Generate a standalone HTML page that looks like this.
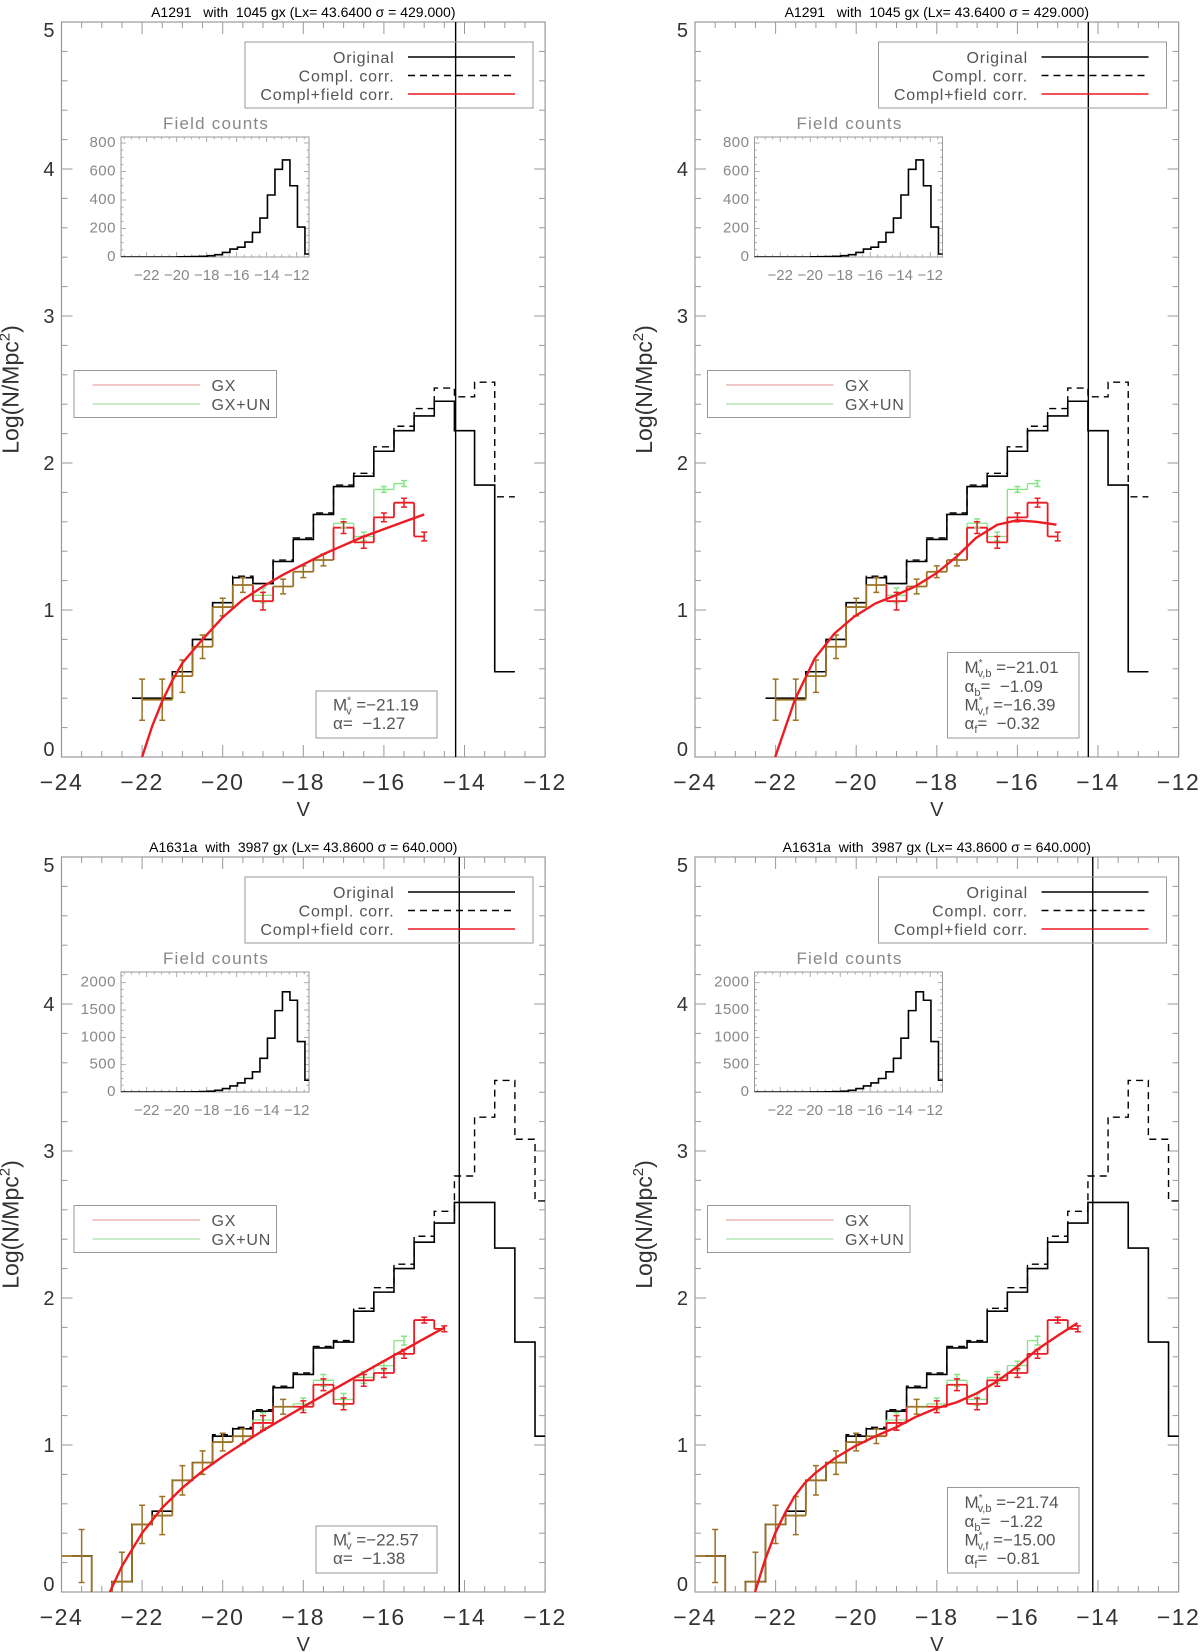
<!DOCTYPE html>
<html>
<head>
<meta charset="utf-8">
<style>
  html, body { margin: 0; padding: 0; background: #fff; }
  svg { display: block; }
  text { font-family: "Liberation Sans", "DejaVu Sans", sans-serif; }
</style>
</head>
<body>
<svg id="chart" xmlns="http://www.w3.org/2000/svg" width="1200" height="1652" viewBox="0 0 1200 1652">
  <rect x="0" y="0" width="1200" height="1652" fill="#ffffff"/>
</svg>
<script>
// ---------------- DATA ----------------
// Cluster A1291 (top row)
const a1291Title = "A1291   with  1045 gx (Lx= 43.6400 \u03c3 = 429.000)";
const a1291BinMag = [-22,-21.5,-21,-20.5,-20,-19.5,-19,-18.5,-18,-17.5,-17,-16.5,-16,-15.5,-15,-14.5,-14,-13.5,-13];
const a1291Original = [0.40,0.40,0.58,0.80,1.05,1.22,1.18,1.33,1.48,1.65,1.84,1.91,2.08,2.22,2.32,2.42,2.22,1.85,0.58];
const a1291Compl = [0.40,0.40,0.58,0.80,1.05,1.23,1.18,1.34,1.49,1.66,1.85,1.93,2.11,2.25,2.37,2.51,2.45,2.55,1.77];
const a1291GxMag = [-22,-21.5,-21,-20.5,-20,-19.5,-19,-18.5,-18,-17.5,-17,-16.5,-16,-15.5,-15];
const a1291Gx = [0.39,0.39,0.55,0.75,1.02,1.17,1.06,1.16,1.26,1.34,1.56,1.46,1.63,1.73,1.50];
const a1291GxErr = [0.14,0.14,0.11,0.08,0.06,0.05,0.06,0.05,0.04,0.04,0.04,0.04,0.03,0.03,0.03];
const a1291GxunMag = [-22,-21.5,-21,-20.5,-20,-19.5,-19,-18.5,-18,-17.5,-17,-16.5,-16,-15.5];
const a1291Gxun = [0.39,0.39,0.55,0.75,1.02,1.17,1.10,1.16,1.26,1.34,1.59,1.50,1.82,1.86];
const a1291GxunErr = [0.14,0.14,0.11,0.08,0.06,0.05,0.05,0.05,0.04,0.04,0.03,0.03,0.02,0.02];
const a1291Vline = [-14.22, -14.24];
// Field counts inset (shared magnitude bins)
const fieldMag = [-23.7,-23.2,-22.7,-22.2,-21.7,-21.2,-20.7,-20.2,-19.7,-19.2,-18.7,-18.2,-17.7,-17.2,-16.7,-16.2,-15.7,-15.2,-14.7,-14.2,-13.7,-13.2,-12.7,-12.2,-11.7,-11.2];
const a1291Field = [0,0,0,0,0,0,0,0,1,2,3,5,9,16,32,56,69,105,172,273,435,615,681,500,210,21];
const a1291FieldTicks = [0,200,400,600,800];
// Fits A1291
const a1291FitSMag = [-22,-21.75,-21.5,-21.25,-21,-20.5,-20,-19.5,-19,-18.5,-18,-17.5,-17,-16.5,-16,-15.5,-15];
const a1291FitS = [0.0,0.21,0.38,0.52,0.64,0.80,0.95,1.07,1.16,1.24,1.31,1.38,1.44,1.50,1.55,1.60,1.65];
const a1291FitDMag = [-22.01,-21.52,-21.03,-20.54,-20.05,-19.52,-19.02,-18.54,-18.01,-17.52,-17.03,-16.5,-16.01,-15.53,-15.03];
const a1291FitD = [0.0,0.39,0.67,0.84,0.955,1.045,1.10,1.16,1.25,1.36,1.49,1.58,1.61,1.60,1.58];

// Cluster A1631a (bottom row)
const a1631Title = "A1631a  with  3987 gx (Lx= 43.8600 \u03c3 = 640.000)";
const a1631BinMag = [-23.5,-23,-22.5,-22,-21.5,-21,-20.5,-20,-19.5,-19,-18.5,-18,-17.5,-17,-16.5,-16,-15.5,-15,-14.5,-14,-13.5,-13,-12.5,-12];
const a1631Original = [0.245,-0.1,0.07,0.46,0.55,0.76,0.88,1.06,1.11,1.23,1.39,1.48,1.66,1.70,1.91,2.04,2.20,2.38,2.51,2.65,2.65,2.34,1.70,1.06];
const a1631Compl = [0.245,-0.1,0.07,0.46,0.55,0.76,0.88,1.07,1.12,1.24,1.40,1.49,1.67,1.71,1.93,2.07,2.23,2.42,2.59,2.83,3.23,3.48,3.08,2.66];
const a1631GxMag = [-24,-23.5,-23,-22.5,-22,-21.5,-21,-20.5,-20,-19.5,-19,-18.5,-18,-17.5,-17,-16.5,-16,-15.5,-15,-14.5];
const a1631Gx = [0.245,0.245,-0.1,0.07,0.46,0.52,0.76,0.88,1.02,1.06,1.15,1.26,1.26,1.41,1.28,1.44,1.49,1.62,1.85,1.79];
const a1631GxErr = [0,0.18,0.02,0.2,0.13,0.13,0.1,0.08,0.06,0.05,0.05,0.05,0.04,0.04,0.04,0.04,0.03,0.03,0.02,0.02];
const a1631GxunMag = [-24,-23.5,-23,-22.5,-22,-21.5,-21,-20.5,-20,-19.5,-19,-18.5,-18,-17.5,-17,-16.5,-16,-15.5];
const a1631Gxun = [0.245,0.245,-0.1,0.07,0.46,0.52,0.76,0.88,1.02,1.06,1.17,1.26,1.28,1.44,1.31,1.46,1.54,1.71];
const a1631GxunErr = [0,0.18,0.02,0.2,0.13,0.13,0.1,0.08,0.06,0.05,0.05,0.05,0.04,0.04,0.04,0.04,0.03,0.03];
const a1631Vline = [-14.13, -14.13];
const a1631Field = [0,0,0,0,0,0,0,0,1,2,4,8,15,31,63,111,166,247,369,616,985,1489,1834,1679,923,216];
const a1631FieldTicks = [0,500,1000,1500,2000];
const a1631FitSMag = [-22.8,-22.5,-22,-21.5,-21,-20.5,-20,-19,-18,-17,-16,-15,-14.5];
const a1631FitS = [0.0,0.176,0.401,0.573,0.709,0.823,0.922,1.099,1.26,1.416,1.571,1.723,1.798];
const a1631FitDMag = [-22.51,-22.26,-22.01,-21.77,-21.53,-21.28,-21.01,-20.53,-20.04,-19.52,-19.01,-18.53,-18.01,-17.51,-17.02,-16.52,-16.02,-15.51,-15.02,-14.51];
const a1631FitD = [0.0,0.22,0.40,0.535,0.65,0.74,0.81,0.91,0.99,1.06,1.12,1.19,1.25,1.29,1.35,1.43,1.53,1.65,1.74,1.83];

// Fit parameter texts
const paramsTL = [["M","*","v"," =\u221221.19"],["\u03b1","","","=  \u22121.27"]];
const paramsTR = [["M","*","v,b"," =\u221221.01"],["\u03b1","","b","=  \u22121.09"],["M","*","v,f"," =\u221216.39"],["\u03b1","","f","=  \u22120.32"]];
const paramsBL = [["M","*","v"," =\u221222.57"],["\u03b1","","","=  \u22121.38"]];
const paramsBR = [["M","*","v,b"," =\u221221.74"],["\u03b1","","b","=  \u22121.22"],["M","*","v,f"," =\u221215.00"],["\u03b1","","f","=  \u22120.81"]];

const xTicks = [-24,-22,-20,-18,-16,-14,-12];
const yTicks = [0,1,2,3,4,5];
const insetXTicks = [-22,-20,-18,-16,-14,-12];

// ---------------- RENDER ----------------
const NS = "http://www.w3.org/2000/svg";
const svg = document.getElementById("chart");
const PXM = 40.3, PXV = 147;
const RED = "#ec1c24", GREEN = "#86e486", BROWN = "#9c7224", AXC = "#9a9a9a", TXC = "#555";

function mk(tag, attrs, parent) {
  const e = document.createElementNS(NS, tag);
  for (const k in attrs) e.setAttribute(k, attrs[k]);
  (parent || svg).appendChild(e);
  return e;
}

const panels = [
  {L: 61.5, B: 757, title: a1291Title, bm: a1291BinMag, orig: a1291Original, comp: a1291Compl,
   gm: a1291GxMag, gx: a1291Gx, ge: a1291GxErr, um: a1291GxunMag, ux: a1291Gxun, ue: a1291GxunErr,
   vl: a1291Vline[0], field: a1291Field, fticks: a1291FieldTicks, fmax: 842,
   fm: a1291FitSMag, fv: a1291FitS, params: paramsTL, id: "top-left"},
  {L: 695, B: 757, title: a1291Title, bm: a1291BinMag, orig: a1291Original, comp: a1291Compl,
   gm: a1291GxMag, gx: a1291Gx, ge: a1291GxErr, um: a1291GxunMag, ux: a1291Gxun, ue: a1291GxunErr,
   vl: a1291Vline[1], field: a1291Field, fticks: a1291FieldTicks, fmax: 842,
   fm: a1291FitDMag, fv: a1291FitD, params: paramsTR, id: "top-right"},
  {L: 61.5, B: 1592, title: a1631Title, bm: a1631BinMag, orig: a1631Original, comp: a1631Compl,
   gm: a1631GxMag, gx: a1631Gx, ge: a1631GxErr, um: a1631GxunMag, ux: a1631Gxun, ue: a1631GxunErr,
   vl: a1631Vline[0], field: a1631Field, fticks: a1631FieldTicks, fmax: 2196,
   fm: a1631FitSMag, fv: a1631FitS, params: paramsBL, id: "bottom-left"},
  {L: 695, B: 1592, title: a1631Title, bm: a1631BinMag, orig: a1631Original, comp: a1631Compl,
   gm: a1631GxMag, gx: a1631Gx, ge: a1631GxErr, um: a1631GxunMag, ux: a1631Gxun, ue: a1631GxunErr,
   vl: a1631Vline[1], field: a1631Field, fticks: a1631FieldTicks, fmax: 2196,
   fm: a1631FitDMag, fv: a1631FitD, params: paramsBR, id: "bottom-right"}
];

panels.forEach((p, pi) => {
  const L = p.L, B = p.B, W = 12 * PXM, H = 5 * PXV, T = B - H, R = L + W;
  const X = m => L + (m + 24) * PXM;
  const Y = v => B - v * PXV;
  const g = mk("g", {});
  
  

  const cid = "clip" + pi;
  const cp = mk("clipPath", {id: cid}, g);
  mk("rect", {x: L, y: T, width: W, height: H}, cp);

  // title
  const tt = mk("text", {x: (L + R) / 2, y: T - 5, "font-size": 14, fill: "#000", "text-anchor": "middle", "xml:space": "preserve", style: "white-space:pre"}, g);
  tt.textContent = p.title;
  
  

  // frame
  const fr = mk("rect", {x: L, y: T, width: W, height: H, fill: "none", stroke: AXC, "stroke-width": 1.2}, g);
  
  

  // x ticks
  const ax = mk("g", {stroke: AXC, "stroke-width": 1}, g);
  
  
  for (let m = -24; m <= -12.001 + 0.01; m += 0.5) {
    const major = Math.abs(m - Math.round(m / 2) * 2) < 1e-6;
    const len = major ? 12 : 6;
    mk("line", {x1: X(m), x2: X(m), y1: B, y2: B - len}, ax);
    mk("line", {x1: X(m), x2: X(m), y1: T, y2: T + len}, ax);
  }
  xTicks.forEach(m => {
    const t = mk("text", {x: X(m), y: B + 33, "font-size": 23, fill: "#333", "text-anchor": "middle", "letter-spacing": 1.5}, g);
    t.textContent = "\u2212" + Math.abs(m);
    
    
  });
  const xt = mk("text", {x: (L + R) / 2, y: B + 59, "font-size": 20, fill: "#333", "text-anchor": "middle"}, g);
  xt.textContent = "V";
  
  

  // y ticks
  const ay = mk("g", {stroke: AXC, "stroke-width": 1}, g);
  
  
  for (let k = 0; k <= 25; k++) {
    const v = k * 0.2;
    const len = (k % 5 === 0) ? 11 : 6;
    mk("line", {x1: L, x2: L + len, y1: Y(v), y2: Y(v)}, ay);
    mk("line", {x1: R, x2: R - len, y1: Y(v), y2: Y(v)}, ay);
  }
  yTicks.forEach(v => {
    const yy = Math.min(Math.max(Y(v), T + 8), B - 8);
    const t = mk("text", {x: L - 7, y: yy + 7, "font-size": 20, fill: "#333", "text-anchor": "end"}, g);
    t.textContent = String(v);
    
    
  });
  const ytx = L - 43, yty = (T + B) / 2;
  const yt = mk("text", {x: ytx, y: yty, "font-size": 23, fill: "#333", "text-anchor": "middle", transform: `rotate(-90 ${ytx} ${yty})`}, g);
  yt.innerHTML = 'Log(N/Mpc<tspan dy="-9" font-size="15">2</tspan><tspan dy="9">)</tspan>';
  
  

  // data group clipped
  const dg = mk("g", {"clip-path": `url(#${cid})`, fill: "none"}, g);

  function binPath(mags, vals) {
    let d = "";
    mags.forEach((m, i) => {
      const x0 = X(m - 0.25), x1 = X(m + 0.25), y = Y(vals[i]);
      d += (i === 0 ? `M${x0},${y}` : `L${x0},${y}`) + `L${x1},${y}`;
    });
    return d;
  }
  const orig = mk("path", {d: binPath(p.bm, p.orig), stroke: "#000", "stroke-width": 1.6}, dg);
  
  
  const comp = mk("path", {d: binPath(p.bm, p.comp), stroke: "#000", "stroke-width": 1.4, "stroke-dasharray": "7,5"}, dg);
  
  

  // IDL psym=10 style segments
  function segs(mags, vals) {
    const s = [];
    for (let i = 0; i < mags.length; i++) {
      const a = i === 0 ? mags[0] : (mags[i - 1] + mags[i]) / 2;
      const b = i === mags.length - 1 ? mags[i] : (mags[i] + mags[i + 1]) / 2;
      s.push([a, vals[i], b, vals[i]]);
      if (i < mags.length - 1) s.push([b, vals[i], b, vals[i + 1]]);
    }
    return s;
  }
  const key = s => s.map(v => v.toFixed(3)).join(",");
  const gS = segs(p.um, p.ux), rS = segs(p.gm, p.gx);
  const gKeys = new Set(gS.map(key)), rKeys = new Set(rS.map(key));
  function drawSegs(list, color, sw, name, filterFn) {
    let d = "";
    list.forEach(s => { if (filterFn(s)) d += `M${X(s[0])},${Y(s[1])}L${X(s[2])},${Y(s[3])}`; });
    const e = mk("path", {d: d, stroke: color, "stroke-width": sw}, dg);
    
    
  }
  drawSegs(gS, GREEN, 1.3, 'gx-un-histogram', s => !rKeys.has(key(s)));
  drawSegs(rS, RED, 1.8, 'gx-histogram', s => !gKeys.has(key(s)));
  drawSegs(rS, BROWN, 1.8, 'gx-overlap-histogram', s => gKeys.has(key(s)));

  function errBars(mags, vals, errs, colorFn, name) {
    const eg = mk("g", {"stroke-width": 1.5}, dg);
    
    
    mags.forEach((m, i) => {
      if (!errs[i]) return;
      const c = colorFn(i, m);
      if (!c) return;
      const x = X(m), y0 = Y(vals[i] - errs[i]), y1 = Y(vals[i] + errs[i]);
      mk("path", {d: `M${x},${y0}L${x},${y1}M${x - 3},${y0}L${x + 3},${y0}M${x - 3},${y1}L${x + 3},${y1}`, stroke: c}, eg);
    });
  }
  function same(m, v, e, mags, vals, errs) {
    const j = mags.indexOf(m);
    return j >= 0 && Math.abs(vals[j] - v) < 1e-6 && Math.abs(errs[j] - e) < 1e-6;
  }
  errBars(p.um, p.ux, p.ue, (i, m) => same(m, p.ux[i], p.ue[i], p.gm, p.gx, p.ge) ? null : GREEN, 'gx-un-error-bars');
  errBars(p.gm, p.gx, p.ge, (i, m) => same(m, p.gx[i], p.ge[i], p.um, p.ux, p.ue) ? BROWN : RED, 'gx-error-bars');

  // fit curve
  const fit = mk("polyline", {points: p.fm.map((m, i) => `${X(m)},${Y(p.fv[i])}`).join(" "), stroke: RED, "stroke-width": 2.4, "stroke-linejoin": "round"}, dg);
  
  

  // completeness limit line
  const vl = mk("line", {x1: X(p.vl), x2: X(p.vl), y1: T, y2: B, stroke: "#000", "stroke-width": 1.4}, g);
  
  

  // legend 1
  const lg = mk("g", {}, g);
  
  
  mk("rect", {x: L + 183.5, y: T + 20, width: 288, height: 66, fill: "none", stroke: AXC, "stroke-width": 1}, lg);
  const l1 = [["Original", "#000", null], ["Compl. corr.", "#000", "7,5"], ["Compl+field corr.", RED, null]];
  l1.forEach((e, i) => {
    const yy = T + 35 + i * 18.5;
    const t = mk("text", {x: L + 333, y: yy + 6, "font-size": 16, fill: TXC, "text-anchor": "end", "letter-spacing": 0.8}, lg);
    t.textContent = e[0];
    
    
    const a = {x1: L + 346.5, x2: L + 453.5, y1: yy, y2: yy, stroke: e[1], "stroke-width": 1.5};
    if (e[2]) a["stroke-dasharray"] = e[2];
    mk("line", a, lg);
  });

  // legend 2
  const lg2 = mk("g", {}, g);
  
  
  mk("rect", {x: L + 12.5, y: T + 348.5, width: 202.5, height: 47, fill: "none", stroke: AXC, "stroke-width": 1}, lg2);
  [["GX", "#e8a8a8"], ["GX+UN", "#a8e4a8"]].forEach((e, i) => {
    const yy = T + 363 + i * 19;
    mk("line", {x1: L + 31, x2: L + 138.5, y1: yy, y2: yy, stroke: e[1], "stroke-width": 1.2}, lg2);
    const t = mk("text", {x: L + 150, y: yy + 6, "font-size": 16, fill: TXC, "letter-spacing": 0.8}, lg2);
    t.textContent = e[0];
    
    
  });

  // parameter box
  const n = p.params.length;
  const pg = mk("g", {}, g);
  
  
  const bx = n === 2 ? L + 254.5 : L + 252.5, bw = n === 2 ? 121 : 131.5;
  const bt = n === 2 ? B - 66 : B - 104.5;
  mk("rect", {x: bx, y: bt, width: bw, height: B - 19 - bt, fill: "none", stroke: AXC, "stroke-width": 1}, pg);
  p.params.forEach((r, i) => {
    const yy = B - 34 - (n - 1 - i) * 18.6;
    const t = mk("text", {x: bx + 17, y: yy + 6, "font-size": 17, fill: TXC, "xml:space": "preserve", style: "white-space:pre"}, pg);
    let h = r[0];
    if (r[1]) h += `<tspan dy="-7" font-size="10">${r[1]}</tspan>`;
    if (r[2]) h += `<tspan ${r[1] ? 'dx="-5" dy="11"' : 'dy="4"'} font-size="11">${r[2]}</tspan><tspan dy="${r[1] ? -4 : -4}">${r[3]}</tspan>`;
    else h += `<tspan ${r[1] ? 'dy="7"' : ''}>${r[3]}</tspan>`;
    t.innerHTML = h;
    
    
  });

  // inset: field counts
  const ig = mk("g", {}, g);
  
  
  const iL = L + 59.5, iR = L + 247.5, iT = T + 115, iB = T + 235;
  const IX = m => (L + 235.2) + (m + 12) * 15;
  const IY = v => iB - v / p.fmax * (iB - iT);
  const icid = "iclip" + pi;
  const icp = mk("clipPath", {id: icid}, ig);
  mk("rect", {x: iL, y: iT, width: iR - iL, height: iB - iT}, icp);
  mk("rect", {x: iL, y: iT, width: iR - iL, height: iB - iT, fill: "none", stroke: AXC, "stroke-width": 1}, ig);
  const itk = mk("g", {stroke: AXC, "stroke-width": 0.8}, ig);
  for (let m = -23.5; m <= -11.2; m += 0.5) {
    const major = Math.abs(m - Math.round(m / 2) * 2) < 1e-6;
    const len = major ? 5 : 2.5;
    mk("line", {x1: IX(m), x2: IX(m), y1: iB, y2: iB - len}, itk);
    mk("line", {x1: IX(m), x2: IX(m), y1: iT, y2: iT + len}, itk);
  }
  const step = p.fticks[1] / 4;
  for (let v = 0; v <= p.fmax; v += step) {
    const major = Math.abs(v / p.fticks[1] - Math.round(v / p.fticks[1])) < 1e-6;
    const len = major ? 5 : 2.5;
    mk("line", {x1: iL, x2: iL + len, y1: IY(v), y2: IY(v)}, itk);
    mk("line", {x1: iR, x2: iR - len, y1: IY(v), y2: IY(v)}, itk);
  }
  p.fticks.forEach(v => {
    const t = mk("text", {x: iL - 5, y: IY(v) + 4, "font-size": 15, fill: "#888", "text-anchor": "end", "letter-spacing": 0.5}, ig);
    t.textContent = String(v);
    
    
  });
  insetXTicks.forEach(m => {
    const t = mk("text", {x: IX(m), y: iB + 23, "font-size": 15, fill: "#888", "text-anchor": "middle"}, ig);
    t.textContent = "\u2212" + Math.abs(m);
    
    
  });
  const it = mk("text", {x: (iL + iR) / 2 + 1, y: iT - 8, "font-size": 17, fill: "#888", "text-anchor": "middle", "letter-spacing": 1.2}, ig);
  it.textContent = "Field  counts";
  
  
  let fd = `M${iL},${IY(0)}`;
  fieldMag.forEach((m, i) => {
    fd += `L${IX(m - 0.25)},${IY(p.field[i])}L${IX(m + 0.25)},${IY(p.field[i])}`;
  });
  const fh = mk("path", {d: fd, fill: "none", stroke: "#000", "stroke-width": 1.6, "clip-path": `url(#${icid})`}, ig);
  
  
});
</script>
</body>
</html>
